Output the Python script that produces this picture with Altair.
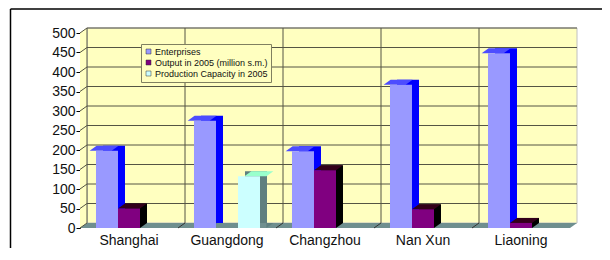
import altair as alt
import pandas as pd

cats = ["Shanghai", "Guangdong", "Changzhou", "Nan Xun", "Liaoning"]
series = ["Enterprises", "Output in 2005 (million s.m.)", "Production Capacity in 2005"]
enterprises = [198, 275, 197, 367, 448]
output = [50, None, 148, 48, 13]
capacity = [None, 133, None, None, None]
y_ticks = list(range(0, 501, 50))

front_col = ["#9999ff", "#800080", "#ccffff"]
side_col = ["#0000ff", "#000000", "#5f7f7f"]
top_col = ["#4d4dff", "#33001a", "#99ffcc"]

rows = []
for i, c in enumerate(cats):
    for s, vals in enumerate([enterprises, output, capacity]):
        v = vals[i]
        if v is None:
            continue
        rows.append({"cat": c, "series": series[s], "value": v, "base": 0,
                     "side": side_col[s], "top": top_col[s]})
df = pd.DataFrame(rows)
ticks_df = pd.DataFrame({"value": y_ticks})
cats_df = pd.DataFrame({"cat": cats})
one = pd.DataFrame({"a": [0]})

W, H = 490, 195
DX, DY = 7, -5

xscale = alt.Scale(domain=cats, paddingInner=0, paddingOuter=0)
xaxis = alt.Axis(labelAngle=0, ticks=False, domain=False, labelFontSize=14,
                 labelPadding=5, title=None, labelColor="#111",
                 labelFont="Liberation Sans")
xenc = alt.X("cat:N", sort=cats, scale=xscale, axis=xaxis)
xedge = alt.X("cat:N", sort=cats, scale=xscale, axis=xaxis, bandPosition=0)
xoff = alt.XOffset("series:N", sort=series,
                   scale=alt.Scale(domain=series, paddingInner=0, paddingOuter=0.727, align=0.5))
# same slots, shifted right by the 3D depth (7 px of the 32 px outer padding)
xoff_back = alt.XOffset("series:N", sort=series,
                        scale=alt.Scale(domain=series, paddingInner=0, paddingOuter=0.727,
                                        align=(16 + DX) / 32))
yscale = alt.Scale(domain=[0, 500], nice=False)
yaxis = alt.Axis(values=y_ticks, tickSize=4, domainColor="#000", tickColor="#000",
                 labelFontSize=14, labelColor="#111", grid=False, labelPadding=1,
                 labelOverlap=False, labelFont="Liberation Sans", title=None)
yenc = alt.Y("value:Q", scale=yscale, axis=yaxis)
ybase = alt.Y("base:Q", scale=yscale, axis=yaxis)

# walls and floor
back_wall = alt.Chart(one).mark_rect(color="#ffffc0", stroke="#c0c0c0", strokeWidth=1).encode(
    x=alt.value(DX), x2=alt.value(W + DX), y=alt.value(DY), y2=alt.value(H + DY))
left_wall = alt.Chart(one).mark_point(
    shape="M0,0 L7,-5 L7,-200 L0,-195 Z", size=4, filled=True, color="#ffffc0",
    opacity=1, strokeWidth=0).encode(x=alt.value(0), y=alt.value(H))
floor = alt.Chart(one).mark_point(
    shape="M0,0 L490,0 L497,-5 L7,-5 Z", size=4, filled=True, color="#6f8f8f",
    opacity=1, strokeWidth=0).encode(x=alt.value(0), y=alt.value(H))

hgrid = alt.Chart(ticks_df[ticks_df.value > 0]).mark_rule(
    color="#555544", strokeWidth=1, yOffset=DY).encode(
    x=alt.value(DX), x2=alt.value(W + DX), y=yenc)
diag = alt.Chart(ticks_df).mark_rule(color="#555544", strokeWidth=1, y2Offset=DY).encode(
    x=alt.value(0), x2=alt.value(DX), y=yenc, y2=alt.Y2("value:Q"))
vgrid = alt.Chart(cats_df).mark_rule(color="#555544", strokeWidth=1, xOffset=DX).encode(
    x=xedge, y=alt.value(DY), y2=alt.value(H + DY))
floor_tick = alt.Chart(cats_df[cats_df.cat != cats[0]]).mark_point(
    shape="M0,0 L7,-5", size=4, filled=False, color="#333333", opacity=1, strokeWidth=1).encode(
    x=xedge, y=alt.value(H))

# 3D bars
side = alt.Chart(df).mark_bar(yOffset=DY, y2Offset=DY).encode(
    x=xenc, xOffset=xoff_back, y=yenc, y2=alt.Y2("base:Q"), color=alt.Color("side:N", scale=None))
topf = alt.Chart(df).mark_point(
    shape="M-11,0 L11,0 L18,-5 L-4,-5 Z", size=4, filled=True, opacity=1, strokeWidth=0).encode(
    x=xenc, xOffset=xoff, y=yenc, color=alt.Color("top:N", scale=None))
tri = alt.Chart(df).mark_point(
    shape="M11,0 L11,-5 L18,-5 Z", size=4, filled=True, opacity=1, strokeWidth=0).encode(
    x=xenc, xOffset=xoff, y=ybase, color=alt.Color("side:N", scale=None))
front = alt.Chart(df).mark_bar().encode(
    x=xenc, xOffset=xoff, y=yenc, y2=alt.Y2("base:Q"),
    color=alt.Color("series:N", sort=series,
                    scale=alt.Scale(domain=series, range=front_col),
                    legend=alt.Legend(orient="none", legendX=61, legendY=11, title=None,
                                      fillColor="#ffffc0", strokeColor="#808060",
                                      padding=3, labelFontSize=9, symbolType="square",
                                      symbolSize=25, rowPadding=1, symbolStrokeColor="#333333",
                                      symbolStrokeWidth=0.5, labelFont="Liberation Sans",
                                      labelOffset=2, labelColor="#111")))

frame_top = alt.Chart(one).mark_rule(color="#000", strokeWidth=1.5).encode(
    x=alt.value(-69.5), x2=alt.value(522), y=alt.value(-24))
frame_left = alt.Chart(one).mark_rule(color="#000", strokeWidth=1.5).encode(
    x=alt.value(-69.5), y=alt.value(-24), y2=alt.value(215))

chart = alt.layer(back_wall, left_wall, floor, hgrid, diag, vgrid, floor_tick,
                  side, topf, tri, front, frame_top, frame_left).resolve_scale(
    xOffset="independent"
).properties(
    width=W, height=H, autosize=alt.AutoSizeParams(type="none"),
    padding={"left": 72, "top": 25, "right": 32, "bottom": 20}
).configure_view(stroke=None)

chart.save("out.html", embed_options={"renderer": "svg", "actions": False})
